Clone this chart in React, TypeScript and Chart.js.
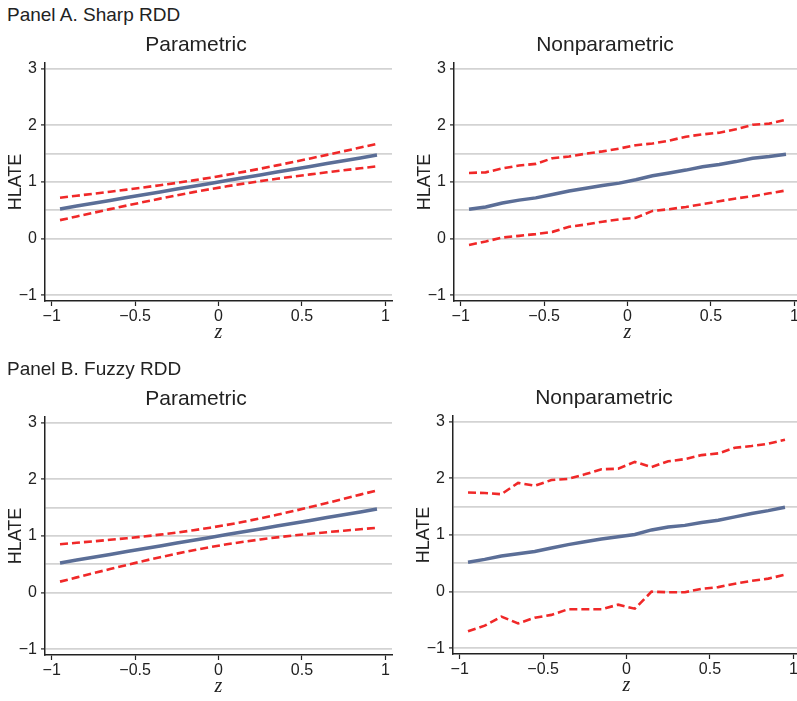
import React, { useEffect, useRef } from 'react';
import Chart from 'chart.js/auto';

// z grid where every estimate is evaluated
const zValues = [-0.95, -0.85, -0.75, -0.65, -0.55, -0.45, -0.35, -0.25, -0.15, -0.05, 0.05, 0.15, 0.25, 0.35, 0.45, 0.55, 0.65, 0.75, 0.85, 0.95];

// Panel A, parametric
const sharpParEst = [0.525, 0.575, 0.625, 0.675, 0.725, 0.775, 0.825, 0.875, 0.925, 0.975, 1.025, 1.075, 1.125, 1.175, 1.225, 1.275, 1.325, 1.375, 1.425, 1.475];
const sharpParHi = [0.723, 0.758, 0.793, 0.829, 0.866, 0.904, 0.943, 0.985, 1.029, 1.076, 1.126, 1.179, 1.235, 1.293, 1.354, 1.416, 1.479, 1.543, 1.608, 1.673];
const sharpParLo = [0.327, 0.392, 0.457, 0.521, 0.584, 0.646, 0.707, 0.765, 0.821, 0.874, 0.924, 0.971, 1.015, 1.057, 1.096, 1.134, 1.171, 1.207, 1.242, 1.277];

// Panel A, nonparametric
const sharpNonEst = [0.52, 0.56, 0.63, 0.68, 0.72, 0.78, 0.84, 0.89, 0.94, 0.98, 1.04, 1.11, 1.16, 1.21, 1.27, 1.31, 1.36, 1.42, 1.45, 1.49];
const sharpNonHi = [1.16, 1.17, 1.24, 1.29, 1.32, 1.42, 1.45, 1.5, 1.54, 1.59, 1.65, 1.68, 1.73, 1.8, 1.84, 1.87, 1.93, 2.01, 2.03, 2.1];
const sharpNonLo = [-0.11, -0.05, 0.02, 0.05, 0.08, 0.12, 0.21, 0.25, 0.3, 0.34, 0.37, 0.49, 0.52, 0.56, 0.61, 0.66, 0.71, 0.75, 0.8, 0.85];

// Panel B, parametric
const fuzzyParEst = [0.525, 0.575, 0.625, 0.675, 0.725, 0.775, 0.825, 0.875, 0.925, 0.975, 1.025, 1.075, 1.125, 1.175, 1.225, 1.275, 1.325, 1.375, 1.425, 1.475];
const fuzzyParHi = [0.855, 0.88, 0.906, 0.933, 0.961, 0.991, 1.024, 1.061, 1.101, 1.146, 1.196, 1.251, 1.311, 1.374, 1.441, 1.511, 1.583, 1.656, 1.73, 1.805];
const fuzzyParLo = [0.195, 0.27, 0.344, 0.417, 0.489, 0.559, 0.626, 0.689, 0.749, 0.804, 0.854, 0.899, 0.939, 0.976, 1.009, 1.039, 1.067, 1.094, 1.12, 1.145];

// Panel B, nonparametric
const fuzzyNonEst = [0.52, 0.57, 0.63, 0.67, 0.71, 0.77, 0.83, 0.88, 0.93, 0.97, 1.01, 1.09, 1.14, 1.17, 1.22, 1.26, 1.32, 1.38, 1.43, 1.49];
const fuzzyNonHi = [1.75, 1.74, 1.72, 1.92, 1.87, 1.97, 1.99, 2.07, 2.16, 2.17, 2.29, 2.2, 2.3, 2.34, 2.41, 2.44, 2.54, 2.57, 2.61, 2.68];
const fuzzyNonLo = [-0.7, -0.6, -0.44, -0.56, -0.46, -0.41, -0.31, -0.31, -0.31, -0.23, -0.3, 0.0, -0.01, -0.01, 0.05, 0.08, 0.14, 0.19, 0.23, 0.3];

// axes
const xTicks = [-1, -0.5, 0, 0.5, 1];
const yTicks = [-1, 0, 1, 2, 3];
const yExtraGrid = [0.5, 1.5];

const FONT = '"Liberation Sans", Arial, Helvetica, sans-serif';
const TEXT = '#222222';
const EST_COLOR = '#5b6e97';
const CI_COLOR = '#f02828';
const GRID_COLOR = '#d3d3d3';

const fmt = (v: number) => (v < 0 ? '\u2212' + String(-v) : String(v));
const toPts = (ys: number[]) => ys.map((y, i) => ({ x: zValues[i], y }));

interface PanelProps {
  title: string;
  est: number[];
  hi: number[];
  lo: number[];
  left: number;
  top: number;
}

function Panel({ title, est, hi, lo, left, top }: PanelProps) {
  const canvasRef = useRef<HTMLCanvasElement>(null);

  useEffect(() => {
    if (!canvasRef.current) return;
    const ci = { borderColor: CI_COLOR, borderWidth: 2.6, borderDash: [8, 4], pointRadius: 0, tension: 0, fill: false };
    const chart = new Chart(canvasRef.current, {
      type: 'line',
      data: {
        datasets: [
          { data: toPts(hi), ...ci },
          { data: toPts(lo), ...ci },
          { data: toPts(est), borderColor: EST_COLOR, borderWidth: 3.5, pointRadius: 0, tension: 0, fill: false },
        ],
      },
      options: {
        animation: false,
        responsive: false,
        devicePixelRatio: 1,
        layout: { padding: { left: 0, right: 8, top: 0, bottom: 0 } },
        plugins: {
          legend: { display: false },
          tooltip: { enabled: false },
          title: {
            display: true,
            text: title,
            color: TEXT,
            font: { family: FONT, size: 21, weight: 'normal', lineHeight: 1.2 },
            padding: { top: 3, bottom: 4.8 },
          },
        },
        scales: {
          x: {
            type: 'linear',
            min: -1.04,
            max: 1.04,
            afterBuildTicks: (s: any) => { s.ticks = xTicks.map((v) => ({ value: v })); },
            afterFit: (s: any) => { s.height = 54; },
            border: { display: true, color: TEXT, width: 1.5 },
            grid: { drawOnChartArea: false, drawTicks: true, tickLength: 5, tickColor: TEXT, tickWidth: 1.2 },
            ticks: {
              color: TEXT,
              padding: 3,
              maxRotation: 0,
              font: { family: FONT, size: 16, lineHeight: 1 },
              callback: (v: any) => fmt(Number(v)),
            },
            title: {
              display: true,
              text: 'z',
              color: TEXT,
              font: { family: '"Liberation Serif", "DejaVu Serif", serif', size: 20, style: 'italic', lineHeight: 1 },
              padding: { top: 0, bottom: 12 },
            },
          },
          y: {
            type: 'linear',
            min: -1.1,
            max: 3.1,
            afterBuildTicks: (s: any) => {
              s.ticks = [...yTicks, ...yExtraGrid].sort((a, b) => a - b).map((v) => ({ value: v }));
            },
            afterFit: (s: any) => { s.width = 45; },
            border: { display: true, color: TEXT, width: 1.5 },
            grid: {
              color: GRID_COLOR,
              lineWidth: 1.8,
              drawTicks: true,
              tickLength: 4,
              tickColor: (c: any) => (yTicks.includes(c.tick?.value) ? TEXT : 'rgba(0,0,0,0)'),
              tickWidth: 1.2,
            },
            ticks: {
              color: TEXT,
              padding: 4,
              font: { family: FONT, size: 16 },
              callback: (v: any) => (yTicks.includes(Number(v)) ? fmt(Number(v)) : ''),
            },
            title: {
              display: true,
              text: 'HLATE',
              color: TEXT,
              font: { family: FONT, size: 18, lineHeight: 1 },
              padding: { top: 7, bottom: 0 },
            },
          },
        },
      },
    } as any);
    return () => chart.destroy();
  }, [title, est, hi, lo]);

  return (
    <canvas
      ref={canvasRef}
      width={400}
      height={325}
      style={{ position: 'absolute', left, top, width: 400, height: 325 }}
    />
  );
}

const headStyle: React.CSSProperties = {
  position: 'absolute',
  left: 7,
  fontFamily: FONT,
  fontSize: 19,
  lineHeight: '29px',
  color: TEXT,
  whiteSpace: 'nowrap',
};

export default function App() {
  return (
    <div style={{ position: 'absolute', left: 0, top: 0, width: 797, height: 701, overflow: 'hidden', background: '#fff' }}>
      <div style={{ ...headStyle, top: 0 }}>Panel A. Sharp RDD</div>
      <Panel title="Parametric" est={sharpParEst} hi={sharpParHi} lo={sharpParLo} left={0} top={30} />
      <Panel title="Nonparametric" est={sharpNonEst} hi={sharpNonHi} lo={sharpNonLo} left={409} top={30} />
      <div style={{ ...headStyle, top: 354 }}>Panel B. Fuzzy RDD</div>
      <Panel title="Parametric" est={fuzzyParEst} hi={fuzzyParHi} lo={fuzzyParLo} left={0} top={384} />
      <Panel title="Nonparametric" est={fuzzyNonEst} hi={fuzzyNonHi} lo={fuzzyNonLo} left={408} top={383} />
    </div>
  );
}
